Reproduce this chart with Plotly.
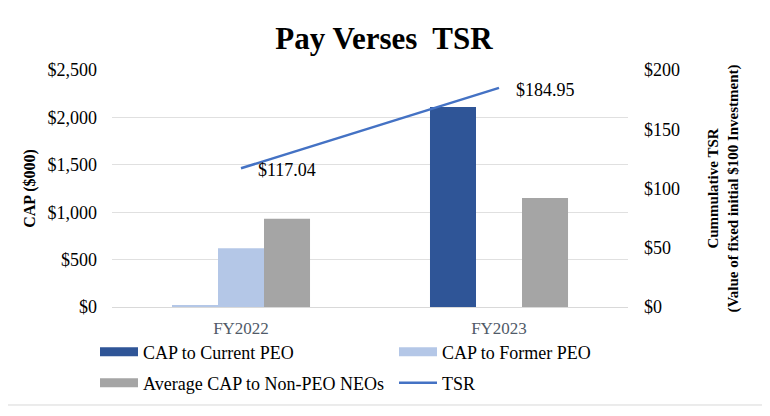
import plotly.graph_objects as go

categories = ["FY2022", "FY2023"]
cap_current_peo = [20, 2110]
cap_former_peo = [620, None]
cap_non_peo = [930, 1150]
tsr = [117.04, 184.95]
tsr_labels = ["$117.04", "$184.95"]
left_ticks = [0, 500, 1000, 1500, 2000, 2500]
left_tick_text = ["$0", "$500", "$1,000", "$1,500", "$2,000", "$2,500"]
right_ticks = [0, 50, 100, 150, 200]
right_tick_text = ["$0", "$50", "$100", "$150", "$200"]

C_CUR = "#2f5597"
C_FOR = "#b4c7e7"
C_NON = "#a5a5a5"
C_TSR = "#4472c4"
FONT = "Liberation Serif, Times New Roman, serif"

# page body has an 8px default margin; the figure is sized to fit the window
W, H = 762, 408

fig = go.Figure()
fig.add_trace(go.Bar(x=categories, y=cap_current_peo, name="CAP to Current PEO",
                     marker=dict(color=[C_FOR, C_CUR], line_width=0), showlegend=False))
fig.add_trace(go.Bar(x=categories, y=cap_former_peo, name="CAP to Former PEO",
                     marker=dict(color=C_FOR, line_width=0), showlegend=False))
fig.add_trace(go.Bar(x=categories, y=cap_non_peo, name="Average CAP to Non-PEO NEOs",
                     marker=dict(color=C_NON, line_width=0), showlegend=False))
fig.add_trace(go.Scatter(x=categories, y=tsr, name="TSR", mode="lines",
                         line=dict(color=C_TSR, width=2.5), yaxis="y2", showlegend=False))

# legend entries (wide rectangle symbols)
for nm, col, w, lg in [("CAP to Current PEO", C_CUR, 9, "legend"),
                       ("CAP to Former PEO", C_FOR, 9, "legend"),
                       ("Average CAP to Non-PEO NEOs", C_NON, 9, "legend2"),
                       ("TSR", C_TSR, 2.5, "legend2")]:
    fig.add_trace(go.Scatter(x=[None], y=[None], mode="lines", name=nm,
                             line=dict(color=col, width=w), legend=lg))

for cat, v, t in zip(categories, tsr, tsr_labels):
    fig.add_annotation(x=cat, y=v, xref="x", yref="y2", text=t, showarrow=False,
                       xanchor="left", yanchor="middle", xshift=15, yshift=-2,
                       font=dict(size=18, color="#000000", family=FONT))

# outer frame (right and bottom edges)
fig.add_shape(type="line", xref="paper", yref="paper", x0=1.262, x1=1.262,
              y0=-0.4135, y1=1.2616, line=dict(color="#d9d9d9", width=1))
fig.add_shape(type="line", xref="paper", yref="paper", x0=-0.2016, x1=1.262,
              y0=-0.4135, y1=-0.4135, line=dict(color="#d9d9d9", width=1))

leg_common = dict(orientation="h", xanchor="left", yanchor="middle",
                  font=dict(size=18, family=FONT, color="#000000"),
                  itemwidth=38,
                  entrywidth=246, entrywidthmode="pixels", bgcolor="rgba(0,0,0,0)")
fig.update_layout(
    width=W, height=H,
    margin=dict(l=104, r=142, t=62, b=109),
    paper_bgcolor="white", plot_bgcolor="white",
    font=dict(family=FONT, color="#000000"),
    title=dict(text="<b>Pay Verses&#160; TSR</b>", x=376 / W, xref="container", xanchor="center",
               y=1 - 30 / H, yanchor="middle", font=dict(size=31, family=FONT, color="#000000")),
    barmode="group", bargap=0.465, bargroupgap=0,
    xaxis=dict(showgrid=False, showline=True, linecolor="#d9d9d9", linewidth=1,
               tickfont=dict(size=17, color="#505a68", family=FONT), ticklabelstandoff=6),
    yaxis=dict(range=[0, 2500], tickvals=left_ticks, ticktext=left_tick_text,
               showgrid=True, gridcolor="#e0e0e0", gridwidth=1, zeroline=False,
               tickfont=dict(size=18, family=FONT), ticklabelstandoff=14,
               title=dict(text="<b>CAP ($000)</b>", font=dict(size=16, family=FONT), standoff=7)),
    yaxis2=dict(range=[0, 200], tickvals=right_ticks, ticktext=right_tick_text,
                overlaying="y", side="right", showgrid=False, zeroline=False,
                tickfont=dict(size=18, family=FONT), ticklabelstandoff=15,
                title=dict(text="<b>Cummulative TSR<br>(Value of fixed initial $100 Investment)</b>",
                           font=dict(size=15, family=FONT), standoff=28)),
    legend=dict(x=(95 - 112) / 516, y=(307 - 352) / 237, **leg_common),
    legend2=dict(x=(95 - 112) / 516, y=(307 - 383) / 237, **leg_common),
)

fig.write_html("out.html")
